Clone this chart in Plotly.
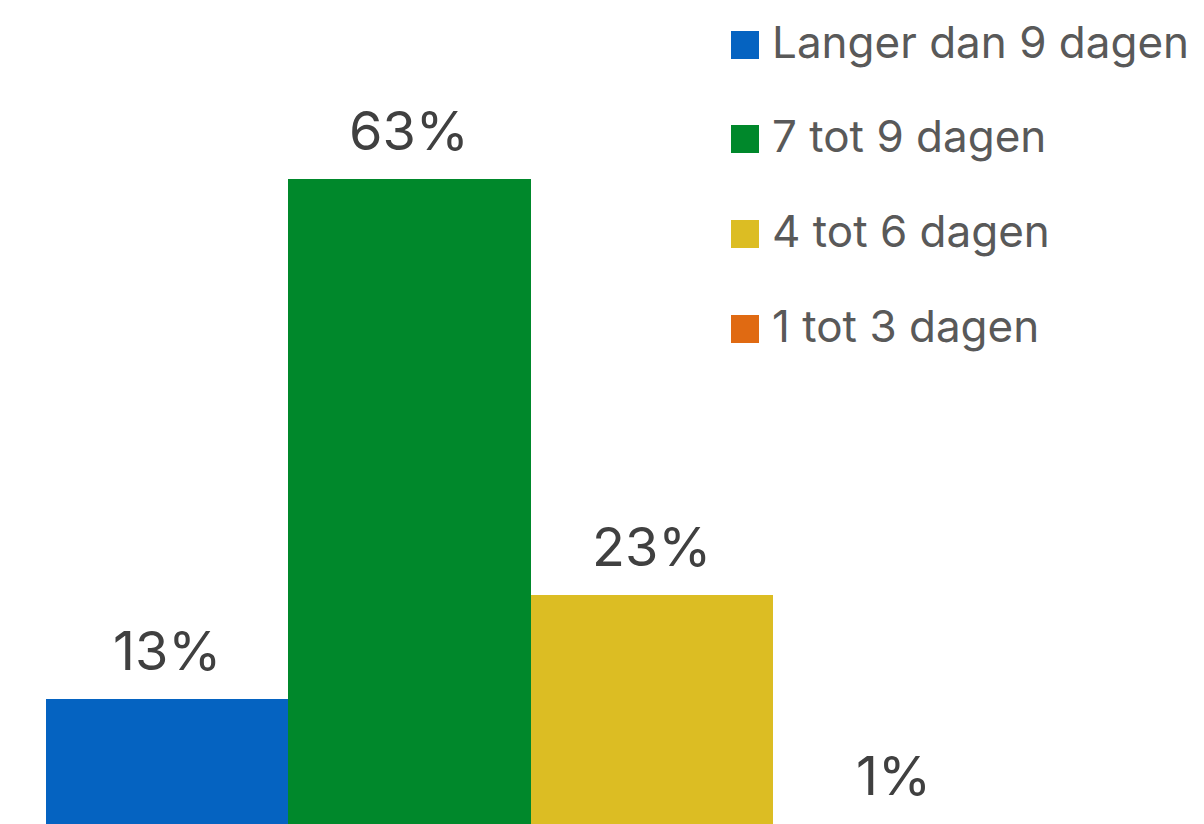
import plotly.graph_objects as go

categories = ["Langer dan 9 dagen", "7 tot 9 dagen", "4 tot 6 dagen", "1 tot 3 dagen"]
values = [13, 63, 23, 1]
colors = ["#0563C1", "#00882B", "#DCBD23", "#E06A12"]
labels = [f"{v}%" for v in values]

W, H = 1204, 824
FONT = "Inter"

fig = go.Figure()
for cat, val, col in zip(categories, values, colors):
    fig.add_trace(go.Bar(x=[cat], y=[val], marker=dict(color=col, line=dict(width=0)),
                         showlegend=False, hoverinfo="skip"))

annotations = []
for cat, val, lab in zip(categories, values, labels):
    annotations.append(dict(x=cat, y=val, xref="x", yref="y", text=lab, showarrow=False,
                            yanchor="bottom", xanchor="center", yshift=14,
                            font=dict(family=FONT, size=54, color="#404040")))

shapes = []
leg_y = [45, 139, 234, 329]
for cat, col, yc in zip(categories, colors, leg_y):
    shapes.append(dict(type="rect", xref="paper", yref="paper",
                       x0=731 / W, x1=759 / W, y0=1 - (yc + 14) / H, y1=1 - (yc - 14) / H,
                       fillcolor=col, line=dict(width=0)))
    annotations.append(dict(x=770 / W, y=1 - (yc - 3) / H, xref="paper", yref="paper", text=cat,
                            showarrow=False, xanchor="left", yanchor="middle",
                            font=dict(family=FONT, size=44, color="#595959")))

fig.update_layout(
    width=W, height=H,
    margin=dict(l=0, r=0, t=0, b=0),
    paper_bgcolor="white", plot_bgcolor="white",
    barmode="overlay", bargap=0,
    xaxis=dict(domain=[46 / W, 1015 / W], range=[-0.5, 3.5], visible=False, fixedrange=True),
    yaxis=dict(domain=[0, 1], range=[0.96, 80.2], visible=False, fixedrange=True),
    annotations=annotations, shapes=shapes,
    showlegend=False,
)

fig.write_html("out.html", config={"displayModeBar": False},
               post_script="document.body.style.margin='0';document.body.style.overflow='hidden';")
